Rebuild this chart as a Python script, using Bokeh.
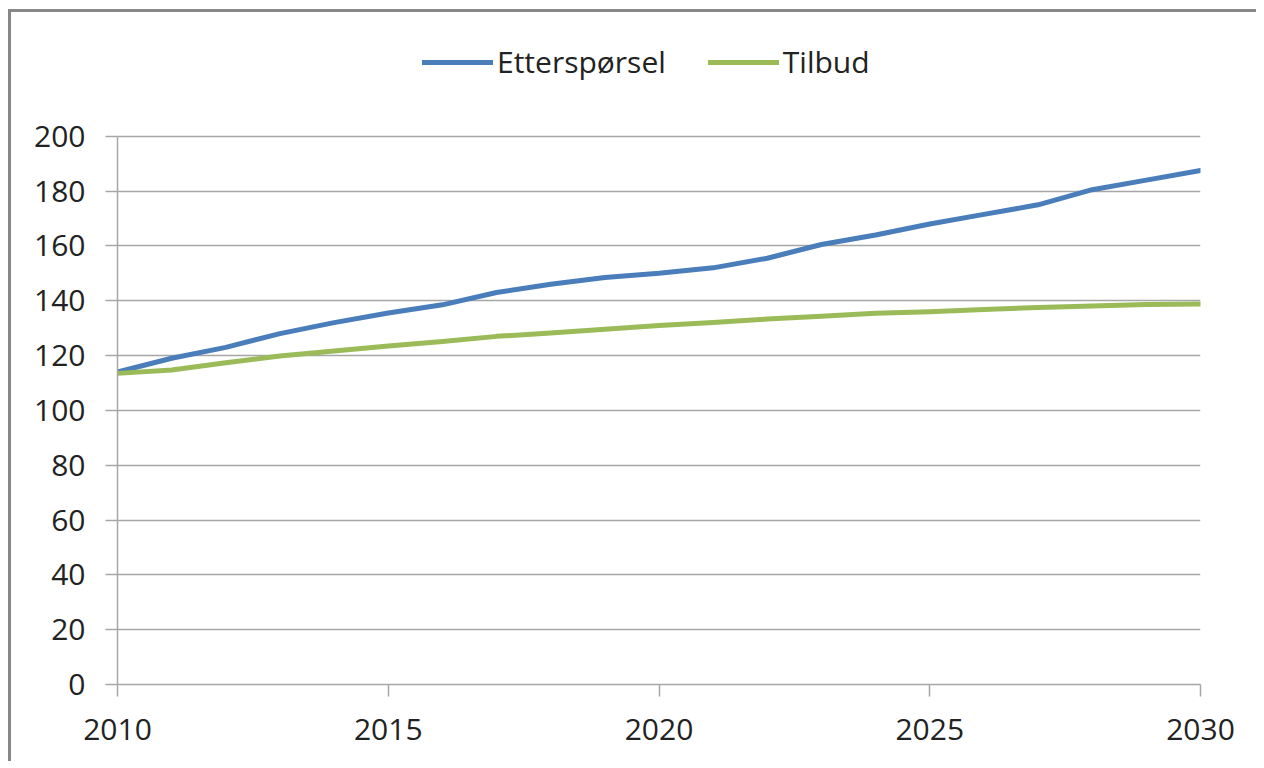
from bokeh.plotting import figure
from bokeh.models import Legend, LegendItem, FixedTicker, Range1d
from bokeh.embed import file_html
from bokeh.resources import INLINE

years = list(range(2010, 2031))
etterspørsel = [114, 119, 123, 128, 132, 135.5, 138.5, 143, 146, 148.5, 150,
                152, 155.5, 160.5, 164, 168, 171.5, 175, 180.5, 184, 187.5]
tilbud = [113.5, 114.7, 117.4, 119.8, 121.7, 123.5, 125.1, 127, 128.2, 129.6, 131,
          132.1, 133.3, 134.3, 135.4, 136, 136.8, 137.5, 138.1, 138.6, 138.8]
x_ticks = [2010, 2015, 2020, 2025, 2030]
y_ticks = list(range(0, 201, 20))
series_names = ["Etterspørsel", "Tilbud"]

FONT = "Open Sans"
GRID = "#a6a6a6"
Y_TOP = 241.5  # extra headroom above 200 so the legend sits inside the frame

p = figure(width=1248, height=752, output_backend="svg", toolbar_location=None,
           x_range=Range1d(2010, 2030), y_range=Range1d(0, Y_TOP),
           min_border_left=106, min_border_right=59, min_border_top=10, min_border_bottom=80)
p.styles = {"border-left": "3px solid #878787", "border-top": "3px solid #878787",
            "margin-top": "9px", "margin-left": "8px", "background": "white"}
p.outline_line_color = None
p.background_fill_color = "white"
p.border_fill_color = "white"

p.xgrid.grid_line_color = None
p.ygrid.grid_line_color = GRID
p.ygrid.grid_line_width = 1.5
p.ygrid.ticker = FixedTicker(ticks=y_ticks)

for ax in (p.xaxis[0], p.yaxis[0]):
    ax.axis_line_color = GRID
    ax.axis_line_width = 1.5
    ax.major_tick_line_color = GRID
    ax.major_tick_line_width = 1.5
    ax.major_tick_out = 12
    ax.major_tick_in = 0
    ax.minor_tick_line_color = None
    ax.major_label_text_font = FONT
    ax.major_label_text_font_size = "30px"
    ax.major_label_text_color = "#222222"

p.xaxis.ticker = FixedTicker(ticks=x_ticks)
p.xaxis.major_label_standoff = 22
p.yaxis.ticker = FixedTicker(ticks=y_ticks)
p.yaxis.major_label_standoff = 20
p.yaxis.bounds = (0, 200)

r1 = p.line(years, etterspørsel, line_color="#4a7ebb", line_width=5, line_join="round", line_cap="round")
r2 = p.line(years, tilbud, line_color="#9bbb59", line_width=5, line_join="round", line_cap="round")

legend = Legend(items=[LegendItem(label=series_names[0], renderers=[r1]),
                       LegendItem(label=series_names[1], renderers=[r2])],
                orientation="horizontal", location=(305, 602),
                glyph_width=71, glyph_height=30, label_standoff=4, spacing=42,
                padding=0, margin=0, border_line_color=None, background_fill_alpha=0,
                label_text_font=FONT, label_text_font_size="30px", label_text_color="#222222")
p.add_layout(legend, "center")

html = file_html(p, INLINE)
html = html.replace("<body>", '<body style="background:#f4f4f4">', 1)
open("out.html", "w").write(html)
